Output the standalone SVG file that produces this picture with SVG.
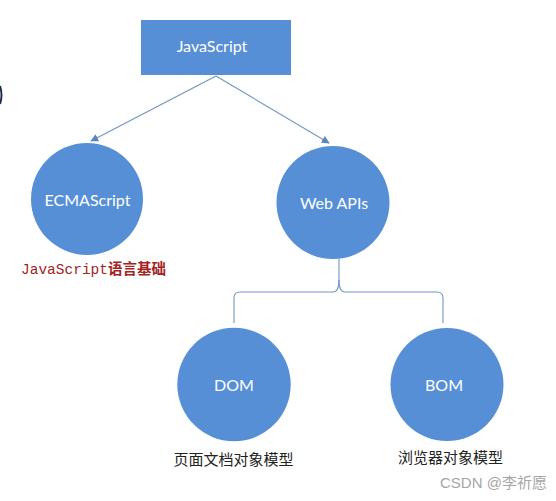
<svg xmlns="http://www.w3.org/2000/svg" width="556" height="501" viewBox="0 0 556 501">
<defs>
<style>
.node{fill:#568fd6;}
.lbl{font-family:Lato,"Open Sans","Noto Sans CJK SC",sans-serif;font-size:16px;fill:#ffffff;text-anchor:middle;}
.conn{fill:none;stroke:#6f95c4;stroke-width:1.1;}
.cap{font-family:"Noto Sans CJK SC","Noto Sans",sans-serif;font-size:15px;fill:#222222;text-anchor:middle;}
.red{font-size:14.5px;fill:#a3231f;}
.wm{font-family:"Liberation Sans","Noto Sans CJK SC",sans-serif;font-size:15px;fill:#a6a6a6;}
</style>
<marker id="arr" viewBox="0 0 10 10" refX="9" refY="5" markerWidth="8" markerHeight="8" markerUnits="userSpaceOnUse" orient="auto">
<path d="M0,0 L10,5 L0,10 z" fill="#5a86c0"/>
</marker>
</defs>
<rect width="556" height="501" fill="#ffffff"/>
<path d="M0,86 Q3,95 0,104" fill="none" stroke="#1e2c4a" stroke-width="2"/>
<g id="connectors">
<line class="conn" x1="216" y1="76" x2="91" y2="141" marker-end="url(#arr)"/>
<line class="conn" x1="216" y1="76" x2="329" y2="143" marker-end="url(#arr)"/>
<path class="conn" d="M339,259 L339,280 Q339,292 333,292 L240,292 Q234,292 234,298 L234,323"/>
<path class="conn" d="M339,280 Q339,292 345,292 L437,292 Q443,292 443,298 L443,323"/>
</g>
<g id="javascript">
<rect class="node" x="141" y="20" width="150" height="55"/>
<text class="lbl" x="212" y="52">JavaScript</text>
</g>
<g id="ecmascript">
<circle class="node" cx="87" cy="199" r="56"/>
<text class="lbl" x="87.5" y="206">ECMAScript</text>
<text class="red" x="21" y="274"><tspan font-family="'Liberation Mono',monospace">JavaScript</tspan><tspan font-family="'Noto Sans CJK SC',sans-serif" font-weight="bold">语言基础</tspan></text>
</g>
<g id="webapis">
<circle class="node" cx="333" cy="202.5" r="56.5"/>
<text class="lbl" x="334" y="208.5">Web APIs</text>
</g>
<g id="dom">
<circle class="node" cx="234" cy="384.5" r="56.7"/>
<text class="lbl" x="234" y="391">DOM</text>
<text class="cap" x="233.5" y="465">页面文档对象模型</text>
</g>
<g id="bom">
<circle class="node" cx="447" cy="384.5" r="56.5"/>
<text class="lbl" x="444" y="391">BOM</text>
<text class="cap" x="450.5" y="462.5">浏览器对象模型</text>
</g>
<text class="wm" x="440" y="488">CSDN @李祈愿</text>
</svg>
